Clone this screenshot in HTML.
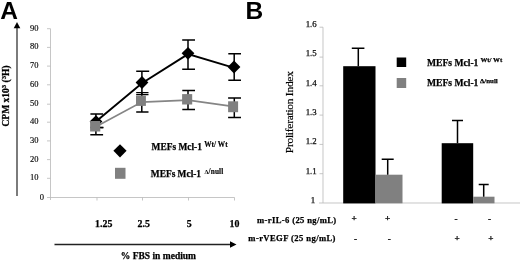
<!DOCTYPE html>
<html>
<head>
<meta charset="utf-8">
<title>Figure</title>
<style>
html,body{margin:0;padding:0;background:#fff;}
body{width:520px;height:260px;overflow:hidden;font-family:"Liberation Serif",serif;}
svg{display:block;}
text{font-family:"Liberation Serif",serif;fill:#000;}
.sans{font-family:"Liberation Sans",sans-serif;font-weight:bold;}
.b{font-weight:bold;stroke:#000;stroke-width:0.25px;}
</style>
</head>
<body>
<svg width="520" height="260" viewBox="0 0 520 260">
<defs><filter id="soft" x="0" y="0" width="520" height="260" filterUnits="userSpaceOnUse"><feGaussianBlur stdDeviation="0.45"/></filter></defs>
<rect width="520" height="260" fill="#fff"/>
<g filter="url(#soft)">

<!-- ===== Panel A ===== -->
<text class="sans" x="0.3" y="18.6" font-size="24.5">A</text>

<!-- vertical arrow -->
<line x1="17" y1="27" x2="17" y2="196" stroke="#444" stroke-width="1.4"/>
<polygon points="17,22 13.7,28.2 20.3,28.2" fill="#000"/>
<text class="b" font-size="9.5" transform="translate(9,126.5) rotate(-90)">CPM x10<tspan font-size="6.8" dy="-3.2">3</tspan><tspan dy="3.2"> (</tspan><tspan font-size="6.8" dy="-3.2">3</tspan><tspan dy="3.2">H)</tspan></text>

<!-- axes A -->
<g stroke="#bcbcbc" stroke-width="0.85" fill="none">
<line x1="50.5" y1="28.7" x2="50.5" y2="200"/>
<line x1="47" y1="197.5" x2="234.5" y2="197.5"/>
<line x1="47" y1="28.7" x2="50.5" y2="28.7"/>
<line x1="47" y1="47.4" x2="50.5" y2="47.4"/>
<line x1="47" y1="66.1" x2="50.5" y2="66.1"/>
<line x1="47" y1="84.8" x2="50.5" y2="84.8"/>
<line x1="47" y1="104.2" x2="50.5" y2="104.2"/>
<line x1="47" y1="122.2" x2="50.5" y2="122.2"/>
<line x1="47" y1="140.9" x2="50.5" y2="140.9"/>
<line x1="47" y1="159.6" x2="50.5" y2="159.6"/>
<line x1="47" y1="178.3" x2="50.5" y2="178.3"/>
<line x1="97" y1="197.5" x2="97" y2="200.5"/>
<line x1="142.5" y1="197.5" x2="142.5" y2="200.5"/>
<line x1="188.5" y1="197.5" x2="188.5" y2="200.5"/>
<line x1="234.5" y1="197.5" x2="234.5" y2="200.5"/>
</g>
<g font-size="8.5" text-anchor="end" fill="#1a1a1a" stroke="#1a1a1a" stroke-width="0.15">
<text x="38.4" y="30.7">90</text>
<text x="38.4" y="49.4">80</text>
<text x="38.4" y="68.1">70</text>
<text x="38.4" y="86.8">60</text>
<text x="38.4" y="106.2">50</text>
<text x="38.4" y="124.2">40</text>
<text x="38.4" y="142.9">30</text>
<text x="38.4" y="161.6">20</text>
<text x="38.4" y="180.3">10</text>
<text x="44" y="199.9">0</text>
</g>

<!-- black series -->
<g stroke="#000" stroke-width="1.5" fill="none">
<path d="M95.9,114V127.5M90.4,114H103.1M90.4,127.5H103.3"/>
<path d="M141.9,71.3V94.4M136.2,71.3H149.2"/>
<path d="M188,40V69.3M182.2,40H195M182.2,69.3H195"/>
<path d="M234.2,53.8V80.3M228.3,53.8H241M228.3,80.3H241"/>
</g>
<polyline points="96,121.5 141.9,83.2 188,54.1 234.2,67.8" fill="none" stroke="#000" stroke-width="1.9"/>
<g fill="#000">
<polygon points="96,115.2 102.4,121.6 96,128 89.6,121.6"/>
<polygon points="142,76.1 148.4,82.5 142,88.9 135.6,82.5"/>
<polygon points="188,46.9 194.4,53.3 188,59.7 181.6,53.3"/>
<polygon points="234,60.6 240.4,67 234,73.4 227.6,67"/>
</g>

<!-- gray series -->
<g stroke="#000" stroke-width="1.5" fill="none">
<path d="M95.9,116V134.8M90.3,134.8H103.1"/>
<path d="M141.8,92.7V112.1M136.2,112.1H148.5"/>
<path d="M136.2,92.6H148.5M136.2,94.6H148.5" stroke-width="1.15"/>
<path d="M188,90.4V109.6M182.3,90.4H195M182.3,109.6H195"/>
<path d="M234.3,98V117.6M228.1,98H241M228.1,117.6H241"/>
</g>
<polyline points="95.9,126.7 141.75,102.1 188,100.1 234.3,106.7" fill="none" stroke="#858585" stroke-width="1.7"/>
<g fill="#808080">
<rect x="90.1" y="121" width="10.2" height="10.5"/>
<rect x="136" y="95.6" width="9.9" height="10.3"/>
<rect x="182.1" y="94.1" width="10.1" height="10.4"/>
<rect x="228.1" y="101.3" width="10" height="10.9"/>
</g>

<line x1="100.3" y1="127.6" x2="103.4" y2="127.6" stroke="#000" stroke-width="1.4"/>

<!-- legend A -->
<polygon points="120,144.2 126.6,150.8 120,157.4 113.4,150.8" fill="#000"/>
<rect x="115" y="167.8" width="10.5" height="11" fill="#808080"/>
<text class="b" font-size="9.4" x="151.6" y="149.8">MEFs Mcl-1 <tspan font-size="7.3" dy="-3" letter-spacing="0.05" stroke-width="0.15">Wt/ Wt</tspan></text>
<text class="b" font-size="9.4" x="150.8" y="177.2">MEFs Mcl-1 <tspan font-size="6.4" dy="-3.1" dx="1.2" stroke-width="0">Δ</tspan><tspan font-size="7.3" letter-spacing="0.1" stroke-width="0.15">/null</tspan></text>

<!-- x labels A -->
<g class="b" font-size="9.9" text-anchor="middle">
<text x="103.7" y="227">1.25</text>
<text x="143.7" y="227">2.5</text>
<text x="189.2" y="227">5</text>
<text x="234.5" y="227">10</text>
</g>
<line x1="54.5" y1="244.5" x2="231" y2="244.5" stroke="#222" stroke-width="1.3"/>
<polygon points="236.5,244.5 230,241.3 230,247.7" fill="#000"/>
<text class="b" font-size="9.5" text-anchor="middle" x="158.4" y="259.3">% FBS in medium</text>

<!-- ===== Panel B ===== -->
<text class="sans" x="245.6" y="18.7" font-size="24.5">B</text>

<g stroke="#bcbcbc" stroke-width="0.85" fill="none">
<line x1="323" y1="27.2" x2="323" y2="203"/>
<line x1="319" y1="203" x2="520" y2="203"/>
<line x1="319.5" y1="27.2" x2="323" y2="27.2"/>
<line x1="319.5" y1="57.1" x2="323" y2="57.1"/>
<line x1="319.5" y1="85.8" x2="323" y2="85.8"/>
<line x1="319.5" y1="115.1" x2="323" y2="115.1"/>
<line x1="319.5" y1="144.4" x2="323" y2="144.4"/>
<line x1="319.5" y1="173.7" x2="323" y2="173.7"/>
</g>
<g font-size="8.8" text-anchor="end" fill="#1a1a1a" stroke="#1a1a1a" stroke-width="0.25">
<text x="316.7" y="27.1">1.6</text>
<text x="316.7" y="56.4">1.5</text>
<text x="316.7" y="85.7">1.4</text>
<text x="316.7" y="115.0">1.3</text>
<text x="316.7" y="144.3">1.2</text>
<text x="316.7" y="173.6">1.1</text>
<text x="315.2" y="203">1</text>
</g>
<text font-size="11.4" letter-spacing="-0.24" text-anchor="middle" transform="translate(293.2,112.3) rotate(-90)" fill="#111" stroke="#111" stroke-width="0.2">Proliferation Index</text>

<!-- bars -->
<rect x="343.2" y="66.2" width="32.3" height="137.2" fill="#000"/>
<rect x="375.5" y="174.7" width="27" height="28.6" fill="#808080"/>
<rect x="441.7" y="143.2" width="31.5" height="60.2" fill="#000"/>
<rect x="473.2" y="196.7" width="21.3" height="6.6" fill="#808080"/>
<g stroke="#000" stroke-width="1.5" fill="none">
<path d="M358.3,48.2V66.2M351.8,48.2H364.4"/>
<path d="M387.7,159.3V174.7M381.7,159.3H393.7"/>
<path d="M457.5,120.5V143.2M452,120.5H463"/>
<path d="M483.7,184.5V196.7M478.7,184.5H488.7"/>
</g>

<!-- legend B -->
<rect x="396.7" y="57.5" width="9.5" height="9.5" fill="#000"/>
<rect x="396.7" y="78" width="9.5" height="10" fill="#808080"/>
<text class="b" font-size="9.6" x="427" y="66.3">MEFs Mcl-1<tspan font-size="6.9" dy="-4" dx="2">Wt/ Wt</tspan></text>
<text class="b" font-size="9.6" x="427" y="86.3">MEFs Mcl-1<tspan font-size="6.9" dy="-3.3" dx="1.6">Δ/null</tspan></text>

<!-- bottom labels B -->
<text class="b" font-size="8.6" letter-spacing="0.36" text-anchor="end" x="336.6" y="223.2">m-rIL-6 (25 ng/mL)</text>
<text class="b" font-size="8.6" letter-spacing="0.4" text-anchor="end" x="335.9" y="241.4">m-rVEGF (25 ng/mL)</text>
<g font-size="9.2" text-anchor="middle" fill="#2a2a2a" stroke="#2a2a2a" stroke-width="0.3" class="b">
<text x="354" y="220.7">+</text>
<text x="387.7" y="220.7">+</text>
<text x="456" y="221.6">-</text>
<text x="489.5" y="221.6">-</text>
<text x="355.5" y="241.5">-</text>
<text x="389.2" y="241.5">-</text>
<text x="457" y="241">+</text>
<text x="490.8" y="241">+</text>
</g>
</g>
</svg>
</body>
</html>
